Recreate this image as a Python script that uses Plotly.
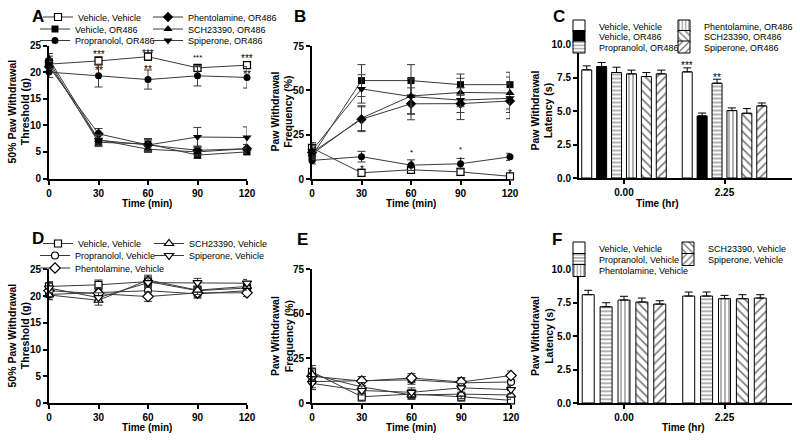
import plotly.graph_objects as go

FONT = "Liberation Sans, Arial, sans-serif"
W, H = 800, 440

# ---------------- data ----------------
time_min = [0, 30, 60, 90, 120]
time_hr = ["0.00", "2.25"]

labels_or = ["Vehicle, Vehicle", "Vehicle, OR486", "Propranolol, OR486",
             "Phentolamine, OR486", "SCH23390, OR486", "Spiperone, OR486"]
labels_veh = ["Vehicle, Vehicle", "Propranolol, Vehicle", "Phentolamine, Vehicle",
              "SCH23390, Vehicle", "Spiperone, Vehicle"]

# Panel A: 50% paw withdrawal threshold (g)
a_veh_veh = [21.5, 22.1, 22.9, 20.8, 21.3]
a_veh_or = [22.0, 6.8, 6.5, 4.4, 5.0]
a_prop_or = [20.0, 19.3, 18.6, 19.3, 19.0]
a_phen_or = [21.0, 8.4, 6.3, 5.3, 5.6]
a_sch_or = [22.5, 7.3, 5.5, 5.0, 5.6]
a_spip_or = [21.5, 7.2, 6.3, 7.8, 7.7]
a_veh_veh_e = [1.0, 0.8, 0.7, 0.6, 0.6]
a_veh_or_e = [1.0, 0.8, 1.0, 0.6, 0.5]
a_prop_or_e = [1.0, 2.1, 1.8, 1.9, 2.0]
a_phen_or_e = [1.0, 1.0, 1.2, 0.8, 0.8]
a_sch_or_e = [1.0, 0.8, 0.6, 0.8, 0.8]
a_spip_or_e = [1.0, 1.0, 1.0, 1.8, 2.0]

# Panel B: paw withdrawal frequency (%)
b_veh_veh = [17.5, 3.5, 5.2, 4.0, 1.5]
b_veh_or = [13.0, 55.5, 55.5, 53.2, 53.2]
b_prop_or = [10.5, 12.6, 7.8, 8.6, 12.5]
b_phen_or = [15.0, 33.7, 42.4, 42.5, 44.0]
b_sch_or = [14.0, 34.3, 46.8, 48.8, 48.5]
b_spip_or = [16.0, 50.8, 46.5, 44.5, 45.5]
b_veh_veh_e = [3.0, 2.0, 2.0, 2.0, 1.5]
b_veh_or_e = [3.0, 9.0, 9.0, 6.0, 7.0]
b_prop_or_e = [2.0, 3.0, 3.0, 3.0, 2.0]
b_phen_or_e = [3.0, 7.0, 9.0, 9.0, 10.0]
b_sch_or_e = [3.0, 7.0, 10.0, 8.0, 9.0]
b_spip_or_e = [3.0, 8.0, 10.0, 7.0, 8.0]

# Panel C: paw withdrawal latency (s)
c_veh_veh = [8.1, 7.95]
c_veh_or = [8.35, 4.65]
c_prop_or = [7.9, 7.1]
c_phen_or = [7.8, 5.05]
c_sch_or = [7.6, 4.85]
c_spip_or = [7.8, 5.4]
c_veh_veh_e = [0.3, 0.3]
c_veh_or_e = [0.3, 0.22]
c_prop_or_e = [0.4, 0.3]
c_phen_or_e = [0.28, 0.2]
c_sch_or_e = [0.3, 0.35]
c_spip_or_e = [0.28, 0.22]

# Panel D
d_veh_veh = [21.8, 22.1, 22.7, 21.0, 21.5]
d_prop_veh = [20.3, 20.7, 21.0, 20.4, 21.0]
d_phen_veh = [21.0, 20.5, 19.9, 20.6, 20.6]
d_sch_veh = [20.2, 19.2, 23.0, 21.1, 21.8]
d_spip_veh = [21.5, 19.7, 22.5, 22.5, 22.4]
d_err = [0.9, 0.9, 0.9, 0.8, 0.7]

# Panel E
e_veh_veh = [17.5, 3.5, 5.0, 3.5, 1.5]
e_prop_veh = [12.0, 12.3, 13.0, 11.3, 11.8]
e_phen_veh = [15.0, 12.3, 14.0, 11.8, 15.4]
e_sch_veh = [16.0, 9.0, 4.5, 5.0, 4.5]
e_spip_veh = [11.0, 7.0, 6.0, 8.5, 7.5]
e_err = [3.5, 2.5, 2.5, 2.5, 2.5]

# Panel F
f_veh_veh = [8.1, 8.0]
f_prop_veh = [7.2, 8.0]
f_phen_veh = [7.7, 7.8]
f_sch_veh = [7.55, 7.8]
f_spip_veh = [7.4, 7.85]
f_veh_veh_e = [0.33, 0.3]
f_prop_veh_e = [0.3, 0.3]
f_phen_veh_e = [0.28, 0.25]
f_sch_veh_e = [0.3, 0.3]
f_spip_veh_e = [0.25, 0.25]

# significance marks (visual centre of each mark group, in data units)
a_star_t = [30, 60, 90, 120, 30, 60, 120]
a_star_y = [23.9, 24.1, 22.2, 23.0, 20.8, 21.0, 20.0]
a_star_txt = ["***", "***", "***<br>**", "***", "**", "**", "**"]
a_star_size = [10, 10, 8, 10, 10, 10, 10]
b_star_t = [30, 60, 90, 120]
b_star_y = [7.0, 13.6, 14.9, 4.6]
b_star_txt = ["*", "*<br>*", "*<br>*", "*"]
b_star_size = [10, 8, 8, 10]
c_star_bar = [0, 2]
c_star_txt = ["***", "**"]

# ---------------- layout helpers ----------------
def px_x(v):
    return v / W

def px_y(v):
    return 1 - v / H

panels = {
    "A": (49, 247, 45.5, 178.5),
    "B": (312, 510, 46, 179),
    "C": (579, 792, 44.5, 178),
    "D": (49, 247, 269.3, 403),
    "E": (312, 511, 269.3, 403),
    "F": (579, 792, 269.3, 403),
}
axis_ids = {"A": ("x", "y", 1), "B": ("x2", "y2", 2), "C": ("x3", "y3", 3),
            "D": ("x4", "y4", 4), "E": ("x5", "y5", 5), "F": ("x6", "y6", 6)}

fig = go.Figure()

LINE_C = "#3a3a3a"
tick_font = dict(family=FONT, size=10, color="black", weight="bold")

legend_count = [0]
legend_defs = {}

def new_legend(textx, rowy):
    legend_count[0] += 1
    n = legend_count[0]
    key = "legend" if n == 1 else f"legend{n}"
    legend_defs[key] = dict(
        x=px_x(textx - 40), y=px_y(rowy), xanchor="left", yanchor="middle",
        bgcolor="rgba(0,0,0,0)", borderwidth=0, itemwidth=30,
        font=dict(family=FONT, size=9, color="black"), tracegroupgap=0,
    )
    return key

sym_or = [("square", "white"), ("square", "black"), ("circle", "black"),
          ("diamond", "black"), ("triangle-up", "black"), ("triangle-down", "black")]
sym_veh = [("square", "white"), ("circle", "white"), ("diamond", "white"),
           ("triangle-up", "white"), ("triangle-down", "white")]

def add_line(panel, name, y, err, sym, fill, legend_key=None):
    xa, ya, _ = axis_ids[panel]
    size = 7 if sym in ("square", "circle") else 8
    fig.add_trace(go.Scatter(
        x=time_min, y=y, name=name, mode="lines+markers",
        xaxis=xa, yaxis=ya, cliponaxis=False,
        line=dict(color=LINE_C, width=1),
        marker=dict(symbol=sym, size=size, color=fill,
                    line=dict(color="black", width=1.2 if fill == "white" else 0)),
        error_y=dict(type="data", array=err, color=LINE_C, thickness=1, width=4),
        showlegend=legend_key is not None,
        legend=legend_key if legend_key else "legend",
    ))

leg_A = [(78, 17), (75, 29), (75, 40.5), (188, 17), (188, 29), (188, 40.5)]
leg_C = [(599, 26), (599, 36.5), (599, 47), (704, 26), (704, 36.5), (704, 47)]
leg_D = [(78, 243.5), (75, 255.5), (75, 268), (189, 243.5), (189, 255.5)]
leg_F = [(599, 248), (599, 259.5), (599, 270.5), (708, 248), (708, 259.5)]

a_series = [a_veh_veh, a_veh_or, a_prop_or, a_phen_or, a_sch_or, a_spip_or]
a_errs = [a_veh_veh_e, a_veh_or_e, a_prop_or_e, a_phen_or_e, a_sch_or_e, a_spip_or_e]
for i, (yv, ev) in enumerate(zip(a_series, a_errs)):
    key = new_legend(*leg_A[i])
    add_line("A", labels_or[i], yv, ev, sym_or[i][0], sym_or[i][1], key)

b_series = [b_veh_veh, b_veh_or, b_prop_or, b_phen_or, b_sch_or, b_spip_or]
b_errs = [b_veh_veh_e, b_veh_or_e, b_prop_or_e, b_phen_or_e, b_sch_or_e, b_spip_or_e]
for i, (yv, ev) in enumerate(zip(b_series, b_errs)):
    add_line("B", labels_or[i], yv, ev, sym_or[i][0], sym_or[i][1], None)

d_series = [d_veh_veh, d_prop_veh, d_phen_veh, d_sch_veh, d_spip_veh]
for i, yv in enumerate(d_series):
    key = new_legend(*leg_D[i])
    add_line("D", labels_veh[i], yv, d_err, sym_veh[i][0], sym_veh[i][1], key)

e_series = [e_veh_veh, e_prop_veh, e_phen_veh, e_sch_veh, e_spip_veh]
for i, yv in enumerate(e_series):
    add_line("E", labels_veh[i], yv, e_err, sym_veh[i][0], sym_veh[i][1], None)

pat_or = [("", "white"), ("", "black"), ("-", "white"), ("|", "white"), ("\\", "white"), ("/", "white")]
pat_veh = [("", "white"), ("-", "white"), ("|", "white"), ("\\", "white"), ("/", "white")]

def add_bar(panel, name, y, err, shape, fill, legend_key):
    xa, ya, _ = axis_ids[panel]
    m = dict(color=fill, line=dict(color="black", width=1))
    if shape:
        m["pattern"] = dict(shape=shape, fgcolor="black", bgcolor=fill,
                            size=4 if shape in ("-", "|") else 6, solidity=0.3)
    fig.add_trace(go.Bar(
        x=time_hr, y=y, name=name, xaxis=xa, yaxis=ya, marker=m,
        error_y=dict(type="data", array=err, arrayminus=[0] * len(err), symmetric=False,
                     color="black", thickness=1, width=4),
        legend=legend_key, showlegend=True,
    ))

c_series = [c_veh_veh, c_veh_or, c_prop_or, c_phen_or, c_sch_or, c_spip_or]
c_errs = [c_veh_veh_e, c_veh_or_e, c_prop_or_e, c_phen_or_e, c_sch_or_e, c_spip_or_e]
for i, (yv, ev) in enumerate(zip(c_series, c_errs)):
    key = new_legend(*leg_C[i])
    add_bar("C", labels_or[i], yv, ev, pat_or[i][0], pat_or[i][1], key)

f_series = [f_veh_veh, f_prop_veh, f_phen_veh, f_sch_veh, f_spip_veh]
f_errs = [f_veh_veh_e, f_prop_veh_e, f_phen_veh_e, f_sch_veh_e, f_spip_veh_e]
for i, (yv, ev) in enumerate(zip(f_series, f_errs)):
    key = new_legend(*leg_F[i])
    add_bar("F", labels_veh[i], yv, ev, pat_veh[i][0], pat_veh[i][1], key)

# ---------------- axes ----------------
BARGAP = 0.11
cat0, unit = 624, 100.5

def axis_common():
    return dict(showline=True, linewidth=2, linecolor="black", ticks="outside",
                ticklen=4, tickwidth=1.5, tickcolor="black", showgrid=False,
                zeroline=False, tickfont=tick_font, fixedrange=True)

layout_axes = {}
yranges = {"A": (0, 25, 5, None), "B": (0, 75, 25, None), "C": (0, 10, 2.5, ".1f"),
           "D": (0, 25, 5, None), "E": (0, 75, 25, None), "F": (0, 10, 2.5, ".1f")}
px_per_unit = {}
for p, (x0, x1, yt, yb) in panels.items():
    xa, ya, n = axis_ids[p]
    xk = "xaxis" if n == 1 else f"xaxis{n}"
    yk = "yaxis" if n == 1 else f"yaxis{n}"
    xd = axis_common()
    xd.update(domain=[px_x(x0), px_x(x1)], anchor=ya)
    if p in ("C", "F"):
        xd.update(type="category", categoryorder="array", categoryarray=time_hr,
                  range=[(x0 - cat0) / unit, (x1 - cat0) / unit])
    else:
        xd.update(range=[0, 120], tickvals=time_min)
    yd = axis_common()
    lo, hi, dt, fmt = yranges[p]
    px_per_unit[p] = (yb - yt) / (hi - lo)
    yd.update(domain=[px_y(yb), px_y(yt)], anchor=xa, range=[lo, hi], dtick=dt, tick0=0)
    if fmt:
        yd["tickformat"] = fmt
    layout_axes[xk] = xd
    layout_axes[yk] = yd

# ---------------- annotations ----------------
ann = []
title_font = dict(family=FONT, size=10, color="black", weight="bold")
ytitle_font = dict(family=FONT, size=10.5, color="black", weight="bold")

for letter, cx, cy in [("A", 37.5, 16), ("B", 300, 16), ("C", 559, 16),
                       ("D", 37.5, 238.5), ("E", 302.5, 239), ("F", 557, 239)]:
    ann.append(dict(text=letter, x=px_x(cx), y=px_y(cy), xref="paper", yref="paper",
                    showarrow=False, xanchor="center", yanchor="middle",
                    font=dict(family=FONT, size=17, color="black", weight="bold")))

for txt, cx, cy in [("Time (min)", 147, 203), ("Time (min)", 411, 203), ("Time (hr)", 657, 203),
                    ("Time (min)", 147, 427), ("Time (min)", 411, 427), ("Time (hr)", 683, 427)]:
    ann.append(dict(text=txt, x=px_x(cx), y=px_y(cy), xref="paper", yref="paper",
                    showarrow=False, xanchor="center", yanchor="middle", font=title_font))

for txt, cx, cy in [("50% Paw Withdrawal<br>Threshold (g)", 18.5, 112),
                    ("Paw Withdrawal<br>Frequency (%)", 281.5, 112),
                    ("Paw Withdrawal<br>Latency (s)", 541.5, 111),
                    ("50% Paw Withdrawal<br>Threshold (g)", 18.5, 336),
                    ("Paw Withdrawal<br>Frequency (%)", 282, 336),
                    ("Paw Withdrawal<br>Latency (s)", 542, 336)]:
    ann.append(dict(text=txt, x=px_x(cx), y=px_y(cy), xref="paper", yref="paper",
                    showarrow=False, xanchor="center", yanchor="middle", textangle=-90,
                    font=ytitle_font))

def star_ann(txt, x, yv, size, xref, yref, panel):
    shift = 0.28 * size / px_per_unit[panel]   # asterisk glyph sits above the box centre
    return dict(text=txt, x=x, y=yv - shift, xref=xref, yref=yref, showarrow=False,
                xanchor="center", yanchor="middle",
                font=dict(family=FONT, size=size, color="black"))

for t, yv, s, sz in zip(a_star_t, a_star_y, a_star_txt, a_star_size):
    ann.append(star_ann(s, t, yv, sz, "x", "y", "A"))
for t, yv, s, sz in zip(b_star_t, b_star_y, b_star_txt, b_star_size):
    ann.append(star_ann(s, t, yv, sz, "x2", "y2", "B"))
n_c = len(c_series)
slot = (1 - BARGAP) / n_c
for bi, s in zip(c_star_bar, c_star_txt):
    xpos = 1 - (1 - BARGAP) / 2 + (bi + 0.5) * slot
    ytop = c_series[bi][1] + c_errs[bi][1] + 0.35
    ann.append(star_ann(s, xpos, ytop, 10, "x3", "y3", "C"))

fig.update_layout(
    width=W, height=H, margin=dict(l=0, r=0, t=0, b=0, autoexpand=False),
    paper_bgcolor="white", plot_bgcolor="white",
    barmode="group", bargap=BARGAP, bargroupgap=0.33,
    font=dict(family=FONT, color="black"),
    annotations=ann, **layout_axes, **legend_defs,
)

fig.write_html("out.html", config={"displayModeBar": False},
               post_script="document.body.style.margin='0';")
